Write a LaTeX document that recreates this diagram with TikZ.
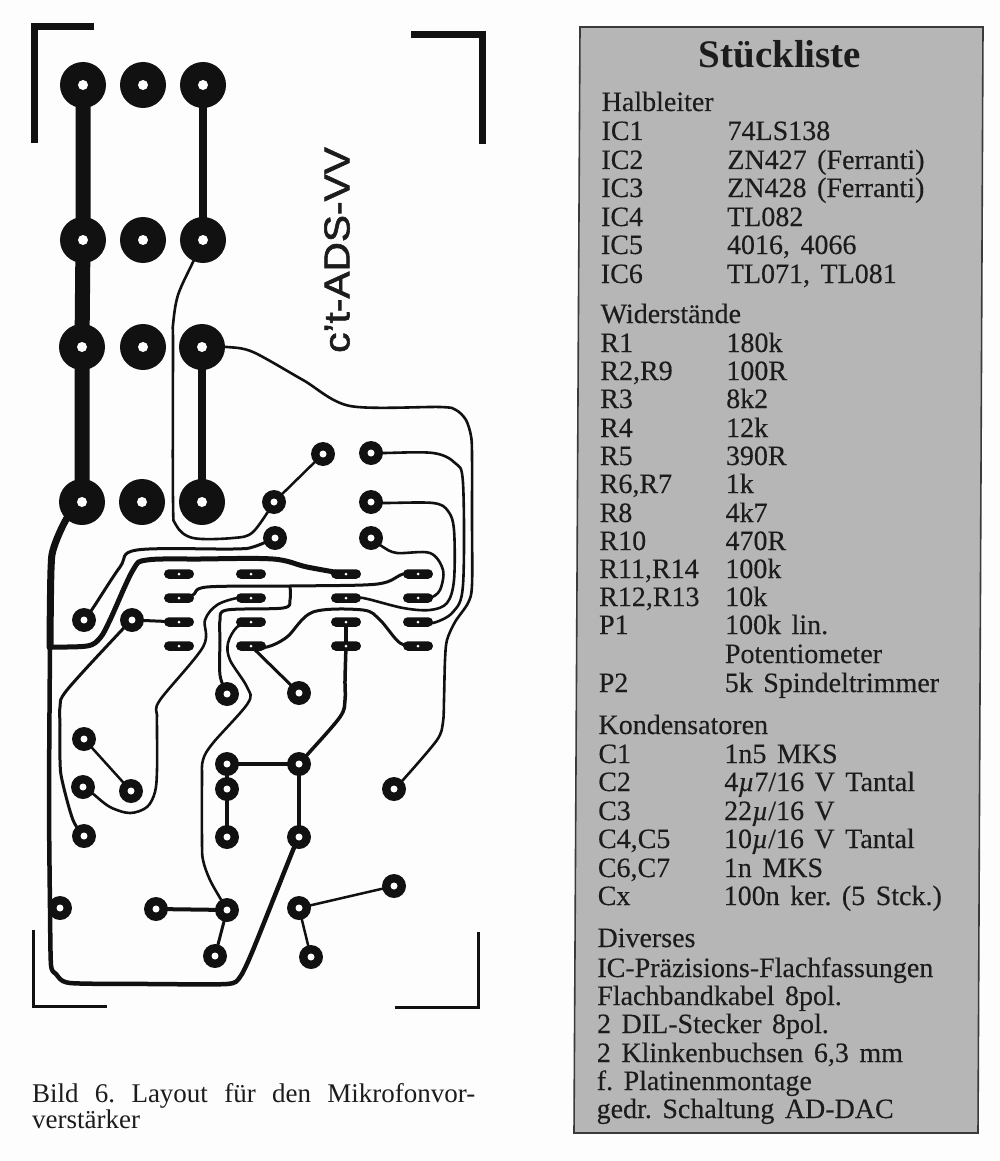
\documentclass[tikz,border=0pt]{standalone}
\usepackage{fontspec}
\setmainfont{Liberation Serif}
\newfontfamily\listfont[WordSpace=1.5,FakeBold=0.25]{Liberation Serif}
\newfontfamily\signfont[FakeBold=1.6]{Liberation Sans}
\definecolor{ink}{HTML}{111111}
\definecolor{paper}{HTML}{FDFDFD}
\definecolor{boxgrey}{HTML}{B6B6B6}
\definecolor{boxline}{HTML}{3A3A3A}
\definecolor{texti}{HTML}{1C1C1C}
\tikzset{
  bigpad/.style={circle,fill=ink,inner sep=0pt,minimum size=46pt},
  smallpad/.style={circle,fill=ink,inner sep=0pt,minimum size=24pt},
  icslot/.style={rectangle,rounded corners=4.7pt,fill=ink,inner sep=0pt,minimum width=30pt,minimum height=9.5pt},
  trace/.style={draw=ink,line width=#1,line cap=round,line join=round},
  trace/.default=3pt,
  cornerline/.style={draw=ink,line width=#1,line cap=butt,line join=miter},
  listline/.style={anchor=base west,inner sep=0pt,text=texti,font=\listfont\frenchspacing\fontsize{28}{28}\selectfont},
  capline/.style={anchor=base west,inner sep=0pt,text=texti,font=\frenchspacing\fontsize{27}{27}\selectfont},
}
\newcommand{\smoothtrace}[2]{\draw[trace=#1] plot[smooth,tension=0.55] coordinates {#2};}
\newcommand{\listrow}[3]{%
  \pgfmathsetmacro{\xa}{601.5-0.005*(#1-111)}%
  \pgfmathsetmacro{\xb}{727.5-0.005*(#1-111)}%
  \node[listline] (a#1) at (\xa,#1) {#2};%
  \node[listline] (b#1) at (\xb,#1) {#3};}
\newcommand{\listonly}[2]{%
  \pgfmathsetmacro{\xa}{601.5-0.005*(#1-111)}%
  \node[listline] (a#1) at (\xa,#1) {#2};}
\begin{document}
\begin{tikzpicture}[x=1pt,y=-1pt]
\useasboundingbox (0,0) rectangle (1000,1161);
\fill[paper] (0,0) rectangle (1000,1161);
% board corner marks
\draw[cornerline=7pt] (34,143) -- (34,27) -- (94,27);
\draw[cornerline=7pt] (411,35) -- (482,35) -- (482,144);
\draw[cornerline=3pt] (33,930) -- (33,1006) -- (107,1006);
\draw[cornerline=3pt] (395,1007) -- (478,1007) -- (478,932);
% large pads
\foreach \n/\x/\y in {L1/83/85,M1/143/85,K1/203/85,L2/83/240,M2/143/240,K2/203/240,L3/82/347,M3/143/347,K3/202/347,L4/82/502,M4/142/502,K4/202/502}
  \node[bigpad] (\n) at (\x,\y) {};
% small pads
\foreach \n/\x/\y in {p1/323/454,p2/371/453,p3/274/502,p4/371/502,p5/275/538,p6/371/538,p7/84/620,p8/132/620,p9/227/694,p10/299/693,
  q1/84/739,q2/83/787,q3/131/791,q4/84/836,q5/227/764,q6/299/764,q7/227/789,q8/227/837,q9/299/837,q10/394/789,q11/394/886,q12/60/908,q13/156/909,q14/227/910,q15/299/908,q16/215/956,q17/311/957}
  \node[smallpad] (\n) at (\x,\y) {};
% IC slots
\foreach \c/\x in {a/179,b/251,c/346,d/418}
  \foreach \r/\y in {1/574,2/598,3/622,4/646}
    \node[icslot] (s\c\r) at (\x,\y) {};
% thick busbars
\draw[trace=15pt,line cap=butt] (L1.center) -- (L2.center) -- (L3.center) -- (L4.center);
\draw[trace=8.5pt,line cap=butt] (K1.center) -- (K2.center);
\draw[trace=8.5pt,line cap=butt] (K3.center) -- (K4.center);
% ground
\coordinate (gnd) at (50,647);
\smoothtrace{7pt}{(L4.center) (67,518) (54,547) (51,570) (gnd)}
\smoothtrace{5pt}{(gnd) (87,646) (100,638) (110,620) (133,570) (147,560) (200,559) (273,559) (307,567) (sc1.center)}
\draw[trace=4.5pt] plot[smooth,tension=0.4] coordinates {(gnd) (49,800) (50,908) (51,965) (56,974) (70,983) (150,984) (227,984) (240,977) (253,950) (293,850) (q9.center)};
% signal traces
\smoothtrace{2.6pt}{(K2.center) (193,262) (178,295) (173,325) (173,345) (173,500) (176,525) (193,538) (233,538) (253,532) (p3.center)}
\draw[trace=2.6pt] plot[smooth,tension=0.5] coordinates {(K3.center) (227,347) (253,352) (303,380) (350,406) (440,407) (456,410) (466,420) (471,436) (472,455) (472,520) (472,585) (468,603) (455,622) (447,640) (445,660) (444,700) (443,722) (437,740) (403,780) (q10.center)};
\smoothtrace{3pt}{(p7.center) (93,608) (120,567) (137,550) (233,549) (253,547) (p5.center)}
\draw[trace=3pt] (p8.center) -- (sa3.center);
\smoothtrace{3pt}{(p8.center) (120,632) (67,690) (60,707) (60,725) (60,760) (62,780) (73,820) (q4.center)}
\smoothtrace{3pt}{(sa2.center) (193,595) (207,587) (290,586) (363,585) (387,582) (403,574) (sd1.center)}
\smoothtrace{3pt}{(290,586) (290,600) (283,608) (227,610) (220,620) (220,640) (220,675) (p9.center)}
\smoothtrace{2.6pt}{(sb2.center) (237,598) (217,605) (205,620) (203,647) (160,700) (157,715) (157,730) (157,770) (155,792) (147,807) (130,813) (110,807) (92,793) (q2.center)}
\smoothtrace{2.6pt}{(sb3.center) (237,627) (228,643) (230,660) (247,687) (248,703) (213,743) (203,760) (202,780) (202,840) (203,860) (210,880) (223,903) (q14.center)}
\smoothtrace{3pt}{(sb4.center) (267,647) (287,637) (313,612) (363,610) (380,620) (400,643) (sd4.center)}
\draw[trace=3pt] (sb4.center) -- (p10.center);
\draw[trace=3.5pt] (sc3.center) -- (sc4.center);
\smoothtrace{3.5pt}{(sc4.center) (345,680) (345,700) (340,717) (307,755) (q6.center)}
\smoothtrace{2.6pt}{(p4.center) (383,503) (433,503) (448,511) (454,530) (454,580) (447,603) (430,610) (403,608) (363,598) (sc2.center)}
\smoothtrace{2.6pt}{(p2.center) (383,453) (433,453) (455,463) (463,483) (463,585) (453,612) (433,623) (sd3.center)}
\smoothtrace{2.6pt}{(p6.center) (383,547) (397,553) (430,553) (443,570) (440,590) (430,598) (sd2.center)}
% straight links
\draw[trace=2.5pt] (p1.center) -- (p3.center);
\draw[trace=2.5pt] (q1.center) -- (q3.center);
\draw[trace=4pt] (q5.center) -- (q6.center);
\draw[trace=4pt] (q5.center) -- (q7.center);
\draw[trace=3.5pt] (q7.center) -- (q8.center);
\draw[trace=4pt] (q6.center) -- (q9.center);
\draw[trace=4pt] (q13.center) -- (q14.center);
\draw[trace=3pt] (q14.center) -- (q16.center);
\draw[trace=2.5pt] (q15.center) -- (q11.center);
\draw[trace=2.5pt] (q15.center) -- (q17.center);
\draw[trace=4pt] (q12.center) -- (50,908);
% drill holes
\foreach \n in {L1,M1,K1,L2,M2,K2,L3,M3,K3,L4,M4,K4} \fill[paper] (\n.center) circle (5);
\foreach \n in {p1,p2,p3,p4,p5,p6,p7,p8,p9,p10,q1,q2,q3,q4,q5,q6,q7,q8,q9,q10,q11,q12,q13,q14,q15,q16,q17} \fill[paper] (\n.center) circle (3.5);
\foreach \c in {a,b,c,d} \foreach \r in {1,2,3,4} \fill[paper] (s\c\r.center) circle (1.5);
% board title
\node[rotate=90,inner sep=0pt,text=texti,font=\signfont\fontsize{36}{36}\selectfont] (sign) at (337,250) {\scalebox{1.13}[1]{c’t-ADS-VV}};
% caption
\node[capline] (cap1) at (32,1102) {\makebox[443pt][s]{Bild 6. Layout für den Mikrofonvor-}};
\node[capline] (cap2) at (32,1128) {verstärker};
% parts list
\filldraw[fill=boxgrey,draw=boxline,line width=1.6pt] (580,27) -- (983,27) -- (978,1133) -- (574,1133) -- cycle;
\node[anchor=base,inner sep=0pt,text=texti,font=\bfseries\fontsize{39}{39}\selectfont] (title) at (780,68) {Stückliste};
\listonly{111}{Halbleiter}
\listrow{140}{IC1}{74LS138}
\listrow{169}{IC2}{ZN427 (Ferranti)}
\listrow{197}{IC3}{ZN428 (Ferranti)}
\listrow{226}{IC4}{TL082}
\listrow{254}{IC5}{4016, 4066}
\listrow{283}{IC6}{TL071, TL081}
\listonly{323}{Widerstände}
\listrow{352}{R1}{180k}
\listrow{380}{R2,R9}{100R}
\listrow{408}{R3}{8k2}
\listrow{437}{R4}{12k}
\listrow{465}{R5}{390R}
\listrow{493}{R6,R7}{1k}
\listrow{522}{R8}{4k7}
\listrow{550}{R10}{470R}
\listrow{578}{R11,R14}{100k}
\listrow{606}{R12,R13}{10k}
\listrow{634}{P1}{100k lin.}
\listrow{663}{}{Potentiometer}
\listrow{692}{P2}{5k Spindeltrimmer}
\listonly{734}{Kondensatoren}
\listrow{763}{C1}{1n5 MKS}
\listrow{791}{C2}{4{\itshape µ}7/16 V Tantal}
\listrow{820}{C3}{22{\itshape µ}/16 V}
\listrow{848}{C4,C5}{10{\itshape µ}/16 V Tantal}
\listrow{877}{C6,C7}{1n MKS}
\listrow{905}{Cx}{100n ker. (5 Stck.)}
\listonly{947}{Diverses}
\listonly{977}{IC-Präzisions-Flachfassungen}
\listonly{1005}{Flachbandkabel 8pol.}
\listonly{1033}{2 DIL-Stecker 8pol.}
\listonly{1062}{2 Klinkenbuchsen 6,3 mm}
\listonly{1090}{f. Platinenmontage}
\listonly{1118}{gedr. Schaltung AD-DAC}
\end{tikzpicture}
\end{document}
